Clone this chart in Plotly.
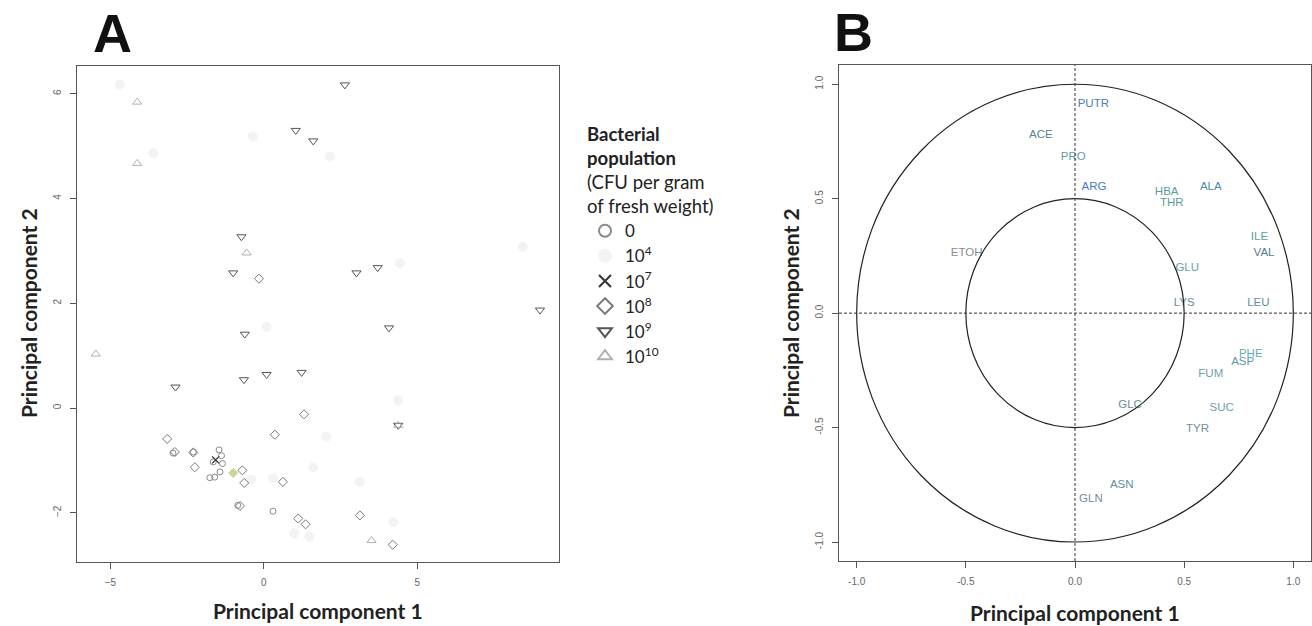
import plotly.graph_objects as go

# ---------------- Panel A data (PCA scores) ----------------
cfu0_x = [-1.46, -1.38, -1.65, -1.35, -1.43, -1.60, -1.76, -2.96, -2.30, -0.85, 0.30]
cfu0_y = [-0.80, -0.91, -1.03, -1.06, -1.22, -1.32, -1.33, -0.86, -0.84, -1.86, -1.97]

cfu4_x = [0.99, 1.48, 1.61, -0.42, 4.43, 2.15, -3.60, -4.70, -0.36, 0.09, 2.04, 4.38, 3.13, 4.22, 8.44, 0.30]
cfu4_y = [-2.39, -2.45, -1.13, -1.37, 2.77, 4.80, 4.87, 6.17, 5.18, 1.55, -0.55, 0.15, -1.41, -2.18, 3.08, -1.34]

cfu7_x = [-1.57]
cfu7_y = [-0.99]

cfu8_x = [1.31, 0.36, -3.15, -2.90, -2.30, -2.25, -0.70, -0.64, 0.62, -0.78, 1.12, 1.36, 3.13, 4.20, -0.16]
cfu8_y = [-0.12, -0.51, -0.59, -0.84, -0.85, -1.13, -1.19, -1.43, -1.41, -1.87, -2.11, -2.22, -2.05, -2.61, 2.47]

cfu9_x = [2.64, 1.04, 1.61, -0.73, -1.00, 3.02, 3.71, 9.00, 4.08, -0.62, 0.09, 1.23, -0.65, -2.88, 4.38]
cfu9_y = [6.17, 5.30, 5.10, 3.27, 2.58, 2.58, 2.68, 1.87, 1.53, 1.41, 0.64, 0.68, 0.54, 0.40, -0.33]

cfu10_x = [-4.13, -4.13, -0.56, -5.48, 3.51, 4.38]
cfu10_y = [5.84, 4.67, 2.96, 1.03, -2.53, -0.33]

extra_x = [-1.00]
extra_y = [-1.24]

legend_names = ["0", "10<sup>4</sup>", "10<sup>7</sup>", "10<sup>8</sup>", "10<sup>9</sup>", "10<sup>10</sup>"]

# ---------------- Panel B data (correlation circle) ----------------
var_names = ["PUTR", "ACE", "PRO", "ARG", "HBA", "THR", "ALA", "ILE", "VAL", "ETOH", "GLU",
             "LYS", "LEU", "PHE", "ASP", "FUM", "GLC", "SUC", "TYR", "ASN", "GLN"]
var_pc1 = [0.084, -0.156, -0.008, 0.087, 0.420, 0.443, 0.622, 0.845, 0.866, -0.496, 0.514,
           0.500, 0.840, 0.805, 0.768, 0.622, 0.252, 0.672, 0.561, 0.214, 0.073]
var_pc2 = [0.913, 0.777, 0.683, 0.549, 0.527, 0.479, 0.549, 0.330, 0.260, 0.260, 0.195,
           0.042, 0.042, -0.179, -0.216, -0.266, -0.400, -0.415, -0.507, -0.751, -0.812]
var_colors = ["#4a80b2", "#5a8290", "#5a9ca4", "#4a7cbc", "#5a9c9c", "#5a9c9c", "#4a8ca4",
              "#62a0a0", "#527e8c", "#858e92", "#62a49c", "#62909c", "#628ea6", "#66aab4",
              "#6294a8", "#729eac", "#728e8e", "#729eac", "#728e9c", "#62909c", "#728e9c"]

circle_radii = [1.0, 0.5]

W, H = 1312, 626

fig = go.Figure()

def pts(x, y, name, symbol, color, size=7, showlegend=True, lw=1):
    fig.add_trace(go.Scatter(
        x=x, y=y, mode="markers", name=name, showlegend=showlegend,
        xaxis="x", yaxis="y",
        marker=dict(symbol=symbol, size=size, color=color,
                    line=dict(color=color, width=lw)),
    ))

pts(cfu0_x, cfu0_y, legend_names[0], "circle-open", "#8a8a8a", 6)
pts(cfu4_x, cfu4_y, legend_names[1], "circle", "#f3f3f3", 9)
pts(cfu7_x, cfu7_y, legend_names[2], "x-thin-open", "#333333", 7, lw=1.3)
pts(cfu8_x, cfu8_y, legend_names[3], "diamond-open", "#7a7a7a", 7)
pts(cfu9_x, cfu9_y, legend_names[4], "triangle-down-open", "#555555", 8)
pts(cfu10_x, cfu10_y, legend_names[5], "triangle-up-open", "#b0b0b0", 8)
pts(extra_x, extra_y, "other", "diamond", "#cfd29a", 7, showlegend=False)

fig.add_trace(go.Scatter(
    x=var_pc1, y=var_pc2, mode="text", text=var_names, showlegend=False,
    xaxis="x2", yaxis="y2",
    textfont=dict(family="Liberation Sans, Arial", size=11.5, color=var_colors),
))

shapes = []
for r in circle_radii:
    shapes.append(dict(type="circle", xref="x2", yref="y2", x0=-r, x1=r, y0=-r, y1=r,
                       line=dict(color="#222222", width=1.2)))
shapes.append(dict(type="line", xref="x2", yref="y2 domain", x0=0, x1=0, y0=0, y1=1,
                   line=dict(color="#333333", width=1, dash="3px,2px")))
shapes.append(dict(type="line", xref="x2 domain", yref="y2", x0=0, x1=1, y0=0, y1=0,
                   line=dict(color="#333333", width=1, dash="3px,2px")))

tickfont = dict(family="Liberation Sans, Arial", size=10, color="#666666")
axis_common = dict(showline=True, mirror=True, linecolor="#555555", linewidth=1.3,
                   ticks="outside", ticklen=6, tickcolor="#555555", tickwidth=1,
                   showgrid=False, zeroline=False, tickfont=tickfont, ticklabelstandoff=5)

fig.update_layout(
    width=W, height=H, margin=dict(l=0, r=0, t=0, b=0),
    paper_bgcolor="white", plot_bgcolor="white",
    xaxis=dict(domain=[77 / W, 559 / W], range=[-6.09, 9.62], tickvals=[-5, 0, 5],
               anchor="y", **axis_common),
    yaxis=dict(domain=[64 / H, 560 / H], range=[-2.94, 6.53], tickvals=[-2, 0, 2, 4, 6],
               tickangle=-90, anchor="x", **axis_common),
    xaxis2=dict(domain=[839 / W, 1311 / W], range=[-1.081, 1.081],
                tickvals=[-1, -0.5, 0, 0.5, 1], ticktext=["-1.0", "-0.5", "0.0", "0.5", "1.0"],
                anchor="y2", **axis_common),
    yaxis2=dict(domain=[65 / H, 561 / H], range=[-1.083, 1.084],
                tickvals=[-1, -0.5, 0, 0.5, 1], ticktext=["-1.0", "-0.5", "0.0", "0.5", "1.0"],
                tickangle=-90, anchor="x2", **axis_common),
    shapes=shapes,
    showlegend=True,
    legend=dict(
        x=585 / W, xanchor="left", y=(H - 117) / H, yanchor="top",
        bgcolor="rgba(0,0,0,0)", borderwidth=0,
        font=dict(family="Lato", size=17, color="#222222"),
        title=dict(text="<b>Bacterial</b><br><b>population</b><br>(CFU per gram<br>of fresh weight)",
                   font=dict(family="Lato", size=18.5, color="#222222")),
        tracegroupgap=0, itemsizing="constant",
    ),
)

annots = [
    dict(text="<b>A</b>", x=112 / W, y=(H - 33) / H, font=dict(family="Liberation Sans, Arial", size=54, color="#111111")),
    dict(text="<b>B</b>", x=853 / W, y=(H - 32) / H, font=dict(family="Liberation Sans, Arial", size=54, color="#111111")),
    dict(text="<b>Principal component 1</b>", x=318 / W, y=(H - 610) / H, font=dict(family="Lato", size=21, color="#222222")),
    dict(text="<b>Principal component 1</b>", x=1075 / W, y=(H - 612) / H, font=dict(family="Lato", size=21, color="#222222")),
    dict(text="<b>Principal component 2</b>", x=28 / W, y=(H - 313) / H, textangle=-90, font=dict(family="Lato", size=21, color="#222222")),
    dict(text="<b>Principal component 2</b>", x=790 / W, y=(H - 313) / H, textangle=-90, font=dict(family="Lato", size=21, color="#222222")),
]
for a in annots:
    a.update(xref="paper", yref="paper", showarrow=False, xanchor="center", yanchor="middle")
fig.update_layout(annotations=annots)

fig.write_html("out.html")
